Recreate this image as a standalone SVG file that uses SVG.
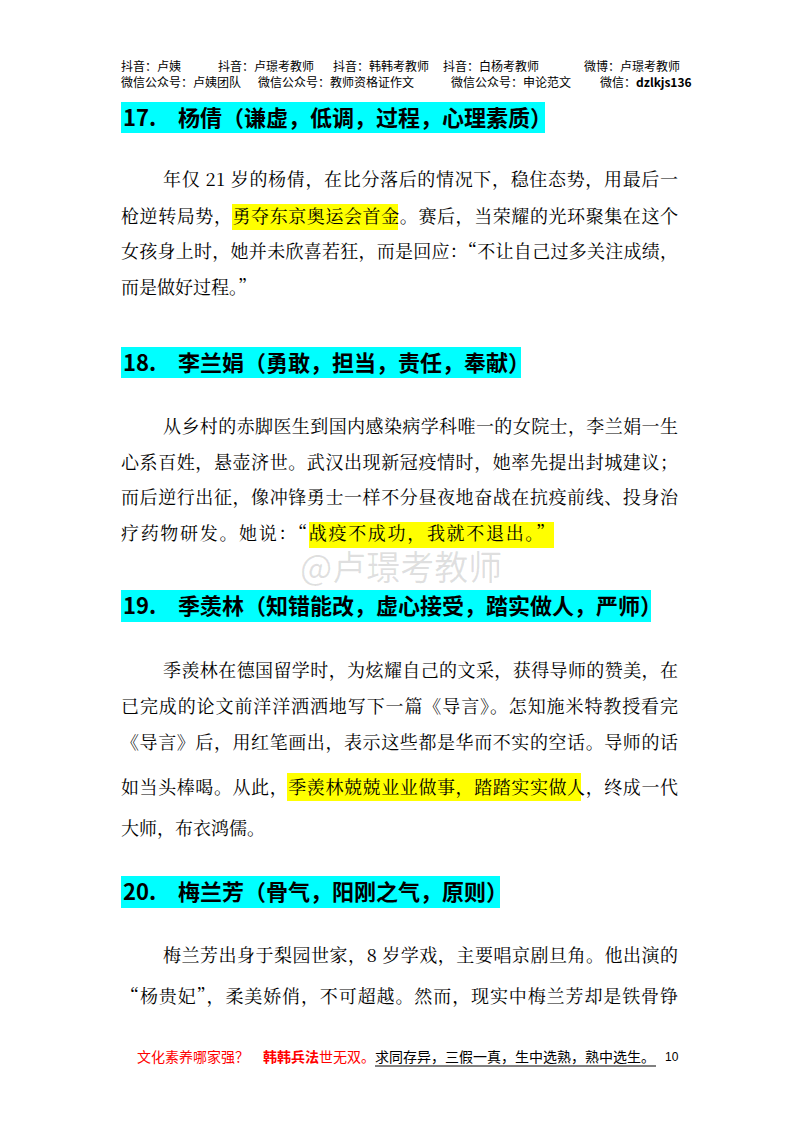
<svg xmlns="http://www.w3.org/2000/svg" width="800" height="1132" viewBox="0 0 800 1132">
<style>
.h{font-family:"Noto Sans CJK SC",sans-serif;font-size:12px;fill:#000}
.t{font-family:"Noto Sans CJK SC",sans-serif;font-weight:bold;font-size:22px;fill:#000}
.b{font-family:"Noto Serif CJK SC","Noto Sans CJK SC",serif;font-size:18px;fill:#000}
.f{font-family:"Noto Sans CJK SC",sans-serif;font-size:14px}
.hl{fill:#ffff00}.cy{fill:#00ffff}
</style>
<rect width="800" height="1132" fill="#fff"/>
<g id="header">
<text class="h" x="121" y="71">抖音：卢姨</text>
<text class="h" x="218" y="71">抖音：卢璟考教师</text>
<text class="h" x="333" y="71">抖音：韩韩考教师</text>
<text class="h" x="443" y="71">抖音：白杨考教师</text>
<text class="h" x="584" y="71">微博：卢璟考教师</text>
<text class="h" x="121" y="87">微信公众号：卢姨团队</text>
<text class="h" x="258" y="87">微信公众号：教师资格证作文</text>
<text class="h" x="451" y="87">微信公众号：申论范文</text>
<text class="h" x="600" y="87">微信：<tspan font-weight="bold">dzlkjs136</tspan></text>
</g>
<g id="watermark"><text x="300" y="580" font-family="Noto Sans CJK SC,sans-serif" font-size="34" fill="#000" fill-opacity="0.12">@卢璟考教师</text></g>
<g id="s17">
<rect class="cy" x="121" y="102" width="424" height="31"/>
<text class="t" x="123" y="126">17.<tspan x="178">杨倩（谦虚，低调，过程，心理素质）</tspan></text>
<rect class="hl" x="232" y="204" width="166" height="26"/>
<text class="b" x="163" y="186" textLength="515">年仅 21 岁的杨倩，在比分落后的情况下，稳住态势，用最后一</text>
<text class="b" x="121" y="223" textLength="557">枪逆转局势，勇夺东京奥运会首金。赛后，当荣耀的光环聚集在这个</text>
<text class="b" x="121" y="258" textLength="557">女孩身上时，她并未欣喜若狂，而是回应：“不让自己过多关注成绩，</text>
<text class="b" x="121" y="294">而是做好过程。”</text>
</g>
<g id="s18">
<rect class="cy" x="121" y="347" width="400" height="31"/>
<text class="t" x="123" y="371">18.<tspan x="178">李兰娟（勇敢，担当，责任，奉献）</tspan></text>
<text class="b" x="163" y="433" textLength="515">从乡村的赤脚医生到国内感染病学科唯一的女院士，李兰娟一生</text>
<text class="b" x="121" y="469" textLength="557">心系百姓，悬壶济世。武汉出现新冠疫情时，她率先提出封城建议；</text>
<text class="b" x="121" y="504" textLength="557">而后逆行出征，像冲锋勇士一样不分昼夜地奋战在抗疫前线、投身治</text>
<rect class="hl" x="309" y="522" width="245" height="26"/>
<text class="b" x="121" y="540" textLength="433">疗药物研发。她说：“战疫不成功，我就不退出。”</text>
</g>
<g id="s19">
<rect class="cy" x="121" y="590" width="530" height="32"/>
<text class="t" x="123" y="614">19.<tspan x="178">季羡林（知错能改，虚心接受，踏实做人，严师）</tspan></text>
<text class="b" x="163" y="677" textLength="515">季羡林在德国留学时，为炫耀自己的文采，获得导师的赞美，在</text>
<text class="b" x="121" y="713" textLength="557">已完成的论文前洋洋洒洒地写下一篇《导言》。怎知施米特教授看完</text>
<text class="b" x="121" y="749" textLength="557">《导言》后，用红笔画出，表示这些都是华而不实的空话。导师的话</text>
<rect class="hl" x="287" y="773" width="294" height="28"/>
<text class="b" x="121" y="794" textLength="557">如当头棒喝。从此，季羡林兢兢业业做事，踏踏实实做人，终成一代</text>
<text class="b" x="121" y="835">大师，布衣鸿儒。</text>
</g>
<g id="s20">
<rect class="cy" x="121" y="876" width="379" height="32"/>
<text class="t" x="123" y="900">20.<tspan x="178">梅兰芳（骨气，阳刚之气，原则）</tspan></text>
<text class="b" x="163" y="962" textLength="515">梅兰芳出身于梨园世家，8 岁学戏，主要唱京剧旦角。他出演的</text>
<text class="b" x="121" y="1003" textLength="557">“杨贵妃”，柔美娇俏，不可超越。然而，现实中梅兰芳却是铁骨铮</text>
</g>
<g id="footer">
<text class="f" x="137" y="1062" fill="#ff0000">文化素养哪家强？</text>
<text class="f" x="263" y="1062" fill="#ff0000"><tspan font-weight="bold">韩韩兵法</tspan>世无双。<tspan fill="#000">求同存异，三假一真，生中选熟，熟中选生。</tspan></text>
<line x1="375" y1="1066" x2="656" y2="1066" stroke="#000" stroke-width="1"/>
<text x="665" y="1061" font-family="Liberation Sans,sans-serif" font-size="12">10</text>
</g>
</svg>
